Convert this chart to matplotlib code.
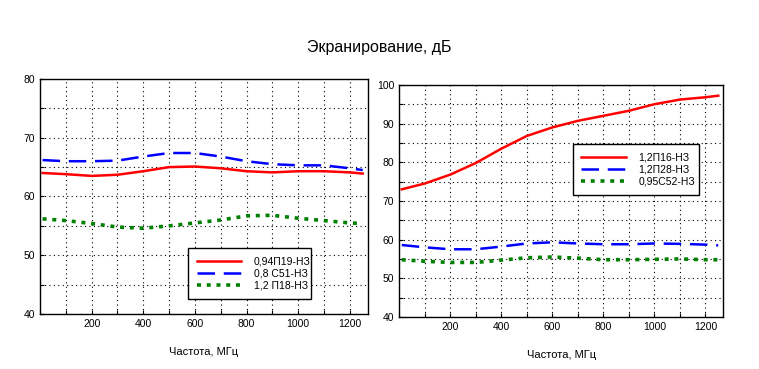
import numpy as np
import matplotlib
matplotlib.use("Agg")
import matplotlib.pyplot as plt
from matplotlib.ticker import MultipleLocator

plt.rcParams["font.family"] = ["Liberation Sans", "DejaVu Sans"]

freq = [10, 100, 200, 300, 400, 500, 600, 700, 800, 900, 1000, 1100, 1200, 1250]

# left panel
l_red = [64.0, 63.8, 63.5, 63.7, 64.3, 65.0, 65.1, 64.8, 64.3, 64.1, 64.3, 64.3, 64.1, 63.9]
l_blue = [66.2, 66.0, 66.0, 66.1, 66.8, 67.4, 67.4, 66.8, 66.0, 65.5, 65.3, 65.3, 64.8, 64.5]
l_green = [56.2, 55.9, 55.4, 54.8, 54.6, 55.0, 55.5, 56.0, 56.7, 56.8, 56.3, 55.9, 55.5, 55.4]
l_names = ["0,94П19-НЗ", "0,8 С51-НЗ", "1,2 П18-НЗ"]

# right panel
r_red = [73.0, 74.5, 76.8, 79.8, 83.5, 86.8, 89.0, 90.7, 92.0, 93.3, 95.0, 96.2, 96.8, 97.2]
r_blue = [58.6, 58.0, 57.5, 57.5, 58.2, 59.0, 59.3, 59.0, 58.8, 58.8, 59.0, 58.9, 58.7, 58.5]
r_green = [54.8, 54.4, 54.1, 54.1, 54.7, 55.3, 55.5, 55.2, 54.8, 54.8, 54.9, 55.0, 54.8, 54.8]
r_names = ["1,2П16-НЗ", "1,2П28-НЗ", "0,95С52-НЗ"]

fig = plt.figure(figsize=(7.59, 3.69), dpi=100)
fig.text(0.5, 0.87, "Экранирование, дБ", ha="center", va="center", fontsize=11.5)


def panel(rect, ys, names, ylim, leg_box, xlabel_y):
    ax = fig.add_axes(rect)
    ax.plot(freq, ys[0], color="red", lw=1.8, label=names[0])
    ax.plot(freq, ys[1], color="blue", lw=1.8, ls=(0, (7, 3.5)), label=names[1])
    ax.plot(freq, ys[2], color="green", lw=2.6, ls=(0, (1.1, 1.6)), label=names[2])
    ax.set_xlim(0, 1270)
    ax.set_ylim(*ylim)
    ax.xaxis.set_major_locator(MultipleLocator(200))
    ax.xaxis.set_minor_locator(MultipleLocator(100))
    ax.yaxis.set_major_locator(MultipleLocator(10))
    ax.yaxis.set_minor_locator(MultipleLocator(5))
    ax.set_xticks([200, 400, 600, 800, 1000, 1200])
    ax.grid(True, which="both", color="black", ls=(0, (1, 3)), lw=0.8)
    ax.tick_params(which="both", direction="in", labelsize=7.5, length=3, width=0.8)
    for s in ax.spines.values():
        s.set_linewidth(1.0)
    leg = ax.legend(loc="center", bbox_to_anchor=leg_box, mode="expand",
                    fontsize=7.5, frameon=True, fancybox=False, edgecolor="black",
                    framealpha=1, handlelength=4.3, handletextpad=1.2,
                    borderpad=0.8, labelspacing=0.2)
    leg.get_frame().set_linewidth(1.0)
    fig.text(rect[0] + rect[2] / 2, xlabel_y, "Частота, МГц", ha="center", va="center", fontsize=8)
    return ax


panel([0.0527, 0.149, 0.432, 0.637], [l_red, l_blue, l_green], l_names,
      (40, 80), (0.436, 0.047, 0.405, 0.251), 0.046)
panel([0.526, 0.141, 0.427, 0.629], [r_red, r_blue, r_green], r_names,
      (40, 100), (0.52, 0.509, 0.42, 0.254), 0.038)

fig.savefig("out.png", dpi=100)
